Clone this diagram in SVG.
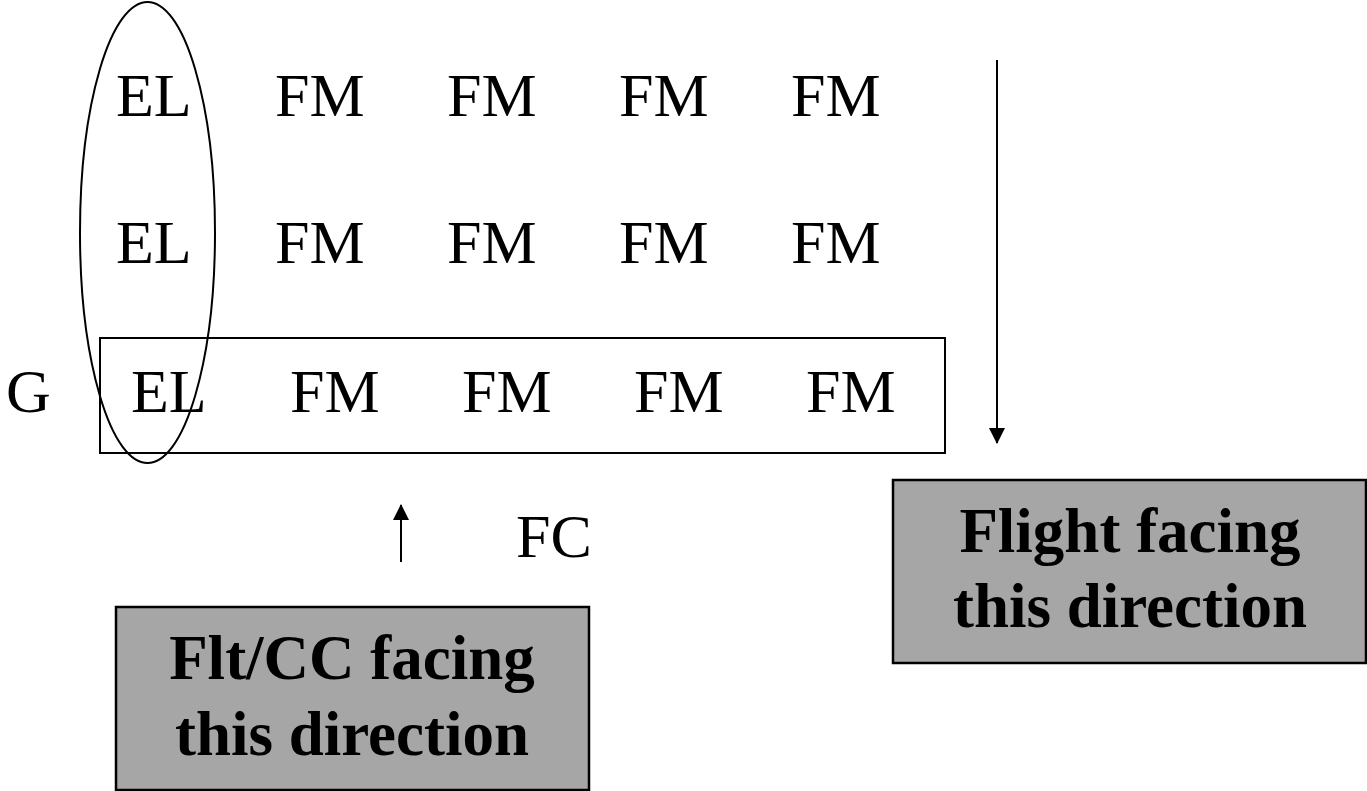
<svg xmlns="http://www.w3.org/2000/svg" width="1367" height="791" viewBox="0 0 1367 791">
<style>
.t{font-family:"Liberation Serif","Times New Roman",serif;font-size:62px;fill:#000}
.b{font-family:"Liberation Serif","Times New Roman",serif;font-size:63px;font-weight:bold;fill:#000;text-anchor:middle}
.ln{stroke:#000;stroke-width:2;fill:none}
.box{fill:#a6a6a6;stroke:#000;stroke-width:2.5}
</style>
<defs>
<marker id="ah" markerUnits="userSpaceOnUse" markerWidth="16" markerHeight="16" viewBox="0 0 16 16" refX="15" refY="8" orient="auto">
<path d="M0,0 L16,8 L0,16 Z" fill="#000"/>
</marker>
</defs>
<rect width="1367" height="791" fill="#fff"/>
<g id="grid">
<text class="t" x="116" y="116">EL</text>
<text class="t" x="275" y="116">FM</text>
<text class="t" x="447" y="116">FM</text>
<text class="t" x="619" y="116">FM</text>
<text class="t" x="791" y="116">FM</text>
<text class="t" x="116" y="263">EL</text>
<text class="t" x="275" y="263">FM</text>
<text class="t" x="447" y="263">FM</text>
<text class="t" x="619" y="263">FM</text>
<text class="t" x="791" y="263">FM</text>
<text class="t" x="6" y="412">G</text>
<text class="t" x="131" y="412">EL</text>
<text class="t" x="290" y="412">FM</text>
<text class="t" x="462" y="412">FM</text>
<text class="t" x="634" y="412">FM</text>
<text class="t" x="806" y="412">FM</text>
</g>
<g id="ellipse"><ellipse class="ln" cx="147.5" cy="232.5" rx="67.5" ry="230.5"/></g>
<g id="rowbox"><rect class="ln" x="100" y="338" width="845" height="115"/></g>
<g id="fc"><text class="t" x="516" y="557">FC</text></g>
<g id="connectors">
<line class="ln" x1="997" y1="60" x2="997" y2="443" marker-end="url(#ah)"/>
<line class="ln" x1="401" y1="562" x2="401" y2="505" marker-end="url(#ah)"/>
</g>
<g id="flight">
<rect class="box" x="893" y="480" width="473" height="183"/>
<text class="b" x="1130" y="552">Flight facing</text>
<text class="b" x="1130" y="627">this direction</text>
</g>
<g id="fltcc">
<rect class="box" x="116" y="607" width="473" height="183"/>
<text class="b" x="352" y="679">Flt/CC facing</text>
<text class="b" x="352" y="755">this direction</text>
</g>
</svg>
